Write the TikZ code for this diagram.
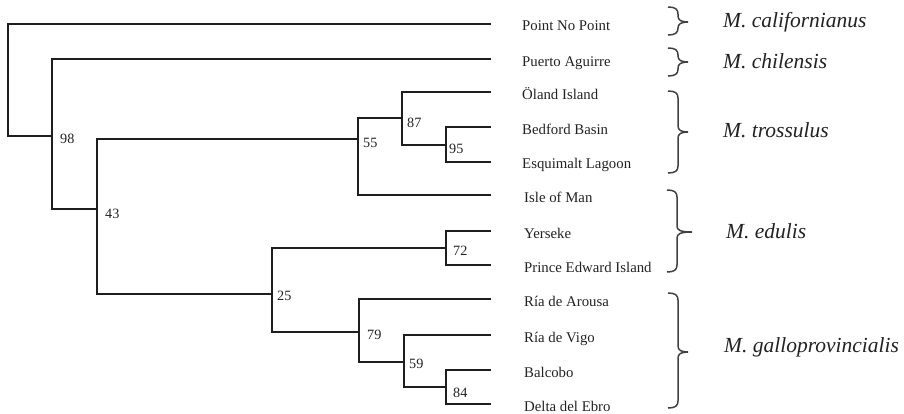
\documentclass[tikz,border=0pt]{standalone}
\usepackage{fontspec}
\setmainfont{Liberation Serif}
\definecolor{ink}{HTML}{1E1E1E}
\definecolor{txt}{HTML}{222222}
\newcommand\spbrace[5]{%
  \draw[brc] (#1,#2) .. controls (#1+7,#2) and (#1+10,#2+2) .. (#1+10,#2+7)
    -- (#1+10,#3-6) .. controls (#1+10,#3-2) and (#1+13,#3) .. (#1+#5,#3)
    .. controls (#1+13,#3) and (#1+10,#3+2) .. (#1+10,#3+6)
    -- (#1+10,#4-7) .. controls (#1+10,#4-2) and (#1+7,#4) .. (#1,#4);}
\begin{document}
\begin{tikzpicture}[x=1pt,y=-1pt,
  tree/.style={line width=2.2pt, draw=ink},
  brc/.style={line width=1.5pt, draw=ink!85},
  leaf/.style={anchor=base west, inner sep=0pt, font=\fontsize{14.8}{16}\selectfont, text=txt},
  boot/.style={anchor=base west, inner sep=0pt, font=\fontsize{14.2}{16}\selectfont, text=txt},
  spec/.style={anchor=base west, inner sep=0pt, font=\fontsize{21.5}{24}\selectfont\itshape, text=txt}]
\useasboundingbox (0,0) rectangle (904,413);
% leaf ends
\coordinate (l1) at (491,24);
\coordinate (l2) at (491,59);
\coordinate (l3) at (491,92);
\coordinate (l4) at (491,127);
\coordinate (l5) at (491,162);
\coordinate (l6) at (491,195);
\coordinate (l7) at (491,231);
\coordinate (l8) at (491,265);
\coordinate (l9) at (491,299);
\coordinate (l10) at (491,335);
\coordinate (l11) at (491,370);
\coordinate (l12) at (491,404);
% internal nodes
\coordinate (r) at (8,80);
\coordinate (n98) at (52,136);
\coordinate (n43) at (97,209);
\coordinate (n55) at (358,139);
\coordinate (n87) at (402,118);
\coordinate (n95) at (446,145);
\coordinate (n25) at (272,294);
\coordinate (n72) at (446,248);
\coordinate (n79) at (359,332);
\coordinate (n59) at (404,362);
\coordinate (n84) at (446,387);
% tree
\draw[tree] (l1) -| (r) |- (n98);
\draw[tree] (l2) -| (n98) |- (n43);
\draw[tree] (n55) -| (n43) |- (n25);
\draw[tree] (n87) -| (n55) |- (l6);
\draw[tree] (l3) -| (n87) |- (n95);
\draw[tree] (l4) -| (n95) |- (l5);
\draw[tree] (n72) -| (n25) |- (n79);
\draw[tree] (l7) -| (n72) |- (l8);
\draw[tree] (l9) -| (n79) |- (n59);
\draw[tree] (l10) -| (n59) |- (n84);
\draw[tree] (l11) -| (n84) |- (l12);
% bootstrap values
\node[boot] (b98) at (60,143) {98};
\node[boot] (b43) at (105,218) {43};
\node[boot] (b55) at (363,147) {55};
\node[boot] (b87) at (407,127) {87};
\node[boot] (b95) at (449,153) {95};
\node[boot] (b25) at (277,300) {25};
\node[boot] (b72) at (453,255) {72};
\node[boot] (b79) at (367,339) {79};
\node[boot] (b59) at (409,368) {59};
\node[boot] (b84) at (453,397) {84};
% leaf labels
\node[leaf] (t1) at (522,30) {Point No Point};
\node[leaf] (t2) at (522,66) {Puerto Aguirre};
\node[leaf] (t3) at (522,99) {Öland Island};
\node[leaf] (t4) at (522,134) {Bedford Basin};
\node[leaf] (t5) at (522,168) {Esquimalt Lagoon};
\node[leaf] (t6) at (524,202) {Isle of Man};
\node[leaf] (t7) at (524,238) {Yerseke};
\node[leaf] (t8) at (524,272) {Prince Edward Island};
\node[leaf] (t9) at (524,306) {Ría de Arousa};
\node[leaf] (t10) at (524,342) {Ría de Vigo};
\node[leaf] (t11) at (524,377) {Balcobo};
\node[leaf] (t12) at (524,411) {Delta del Ebro};
% braces
\spbrace{668}{7}{22}{35}{20}
\spbrace{668}{48}{62}{76}{20}
\spbrace{668}{91}{132}{173}{20}
\spbrace{667}{190}{232}{272}{25}
\spbrace{668}{293}{352}{408}{20}
% species
\node[spec] (s1) at (723,27) {M. californianus};
\node[spec] (s2) at (723,68) {M. chilensis};
\node[spec] (s3) at (723,137) {M. trossulus};
\node[spec] (s4) at (726,238) {M. edulis};
\node[spec] (s5) at (724,352) {M. galloprovincialis};
\end{tikzpicture}
\end{document}
